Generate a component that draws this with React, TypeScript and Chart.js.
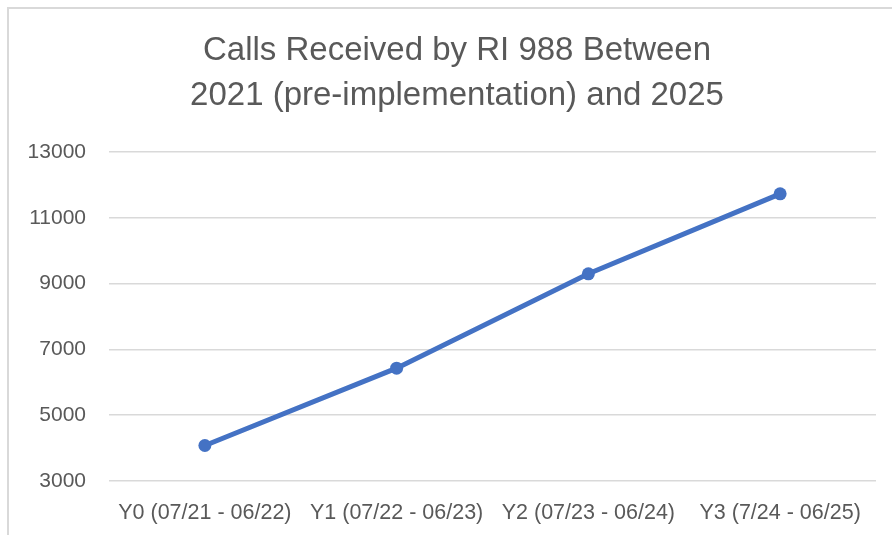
import React, { useEffect, useRef } from "react";
import { Chart, registerables } from "chart.js";

Chart.register(...registerables);

const categories = [
  "Y0 (07/21 - 06/22)",
  "Y1 (07/22 - 06/23)",
  "Y2 (07/23 - 06/24)",
  "Y3 (7/24 - 06/25)",
];
const callsReceived = [4080, 6430, 9300, 11730];
const titleLines = ["Calls Received by RI 988 Between", "2021 (pre-implementation) and 2025"];
const yMin = 3000;
const yMax = 13000;
const yStep = 2000;

const FONT = "'Liberation Sans', Arial, sans-serif";
const TEXT = "#595959";
const GRID = "#d9d9d9";
const BLUE = "#4472C4";

const titleShift = {
  id: "titleShift",
  afterLayout(chart: any) {
    if (chart.titleBlock) {
      chart.titleBlock.left = 38;
      chart.titleBlock.right = chart.chartArea.right;
    }
  },
};

export default function App() {
  const ref = useRef<HTMLCanvasElement | null>(null);

  useEffect(() => {
    if (!ref.current) return;
    const chart = new Chart(ref.current, {
      type: "line",
      data: {
        labels: categories,
        datasets: [
          {
            data: callsReceived,
            borderColor: BLUE,
            backgroundColor: BLUE,
            borderWidth: 5,
            pointRadius: 6.5,
            pointBorderWidth: 0,
            pointBackgroundColor: BLUE,
            tension: 0,
          },
        ],
      },
      plugins: [titleShift],
      options: {
        responsive: false,
        animation: false,
        layout: { padding: { left: 0, right: 16, top: 0, bottom: 0 } },
        plugins: {
          legend: { display: false },
          tooltip: { enabled: false },
          title: {
            display: true,
            text: titleLines,
            color: TEXT,
            font: { family: FONT, size: 33, weight: "normal", lineHeight: 1.38 },
            padding: { top: 28, bottom: 33 },
          },
        },
        scales: {
          x: {
            type: "category",
            offset: true,
            grid: { display: false, drawTicks: false },
            border: { display: false },
            ticks: {
              color: TEXT,
              font: { family: FONT, size: 21.5 },
              padding: 19,
              maxRotation: 0,
              autoSkip: false,
            },
            afterFit: (s: any) => {
              s.height = 54;
            },
          },
          y: {
            min: yMin,
            max: yMax,
            grid: { color: GRID, lineWidth: 1.5, drawTicks: false },
            border: { display: false },
            ticks: {
              stepSize: yStep,
              color: TEXT,
              font: { family: FONT, size: 21 },
              padding: 23,
              callback: (v: any) => String(v),
            },
            afterFit: (s: any) => {
              s.width = 109;
            },
          },
        },
      },
    });
    return () => chart.destroy();
  }, []);

  return (
    <div style={{ position: "absolute", left: 0, top: 0, width: 892, height: 535, overflow: "hidden", background: "#fff" }}>
      <div
        style={{
          position: "absolute",
          left: 7,
          top: 7,
          width: 1000,
          height: 1000,
          borderLeft: `2px solid ${GRID}`,
          borderTop: `2px solid ${GRID}`,
        }}
      />
      <canvas ref={ref} width={892} height={535} style={{ position: "absolute", left: 0, top: 0, width: 892, height: 535 }} />
    </div>
  );
}
